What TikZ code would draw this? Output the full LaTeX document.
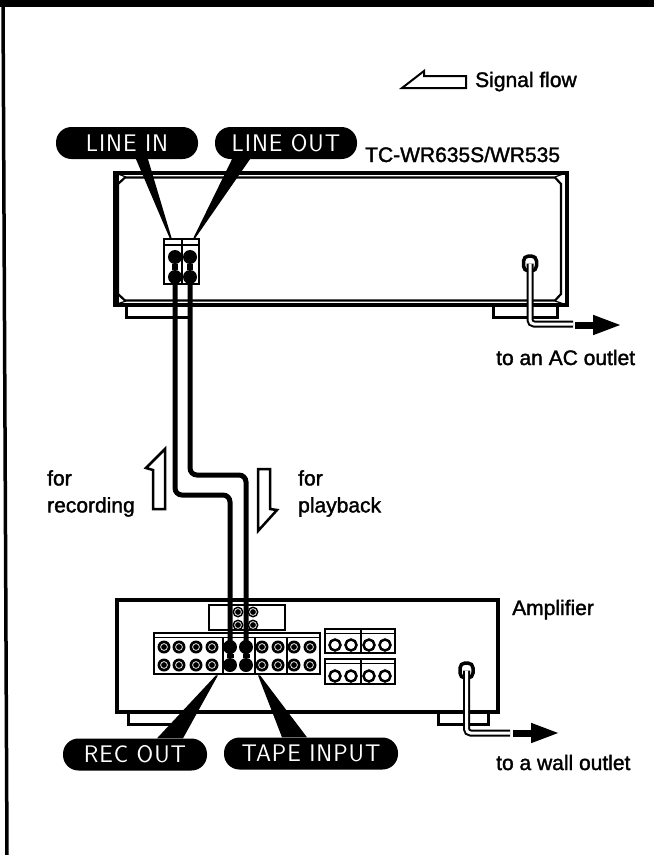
\documentclass[tikz,border=0pt]{standalone}
\usepackage{fontspec}
\setmainfont{Liberation Sans}
\setsansfont{Latin Modern Sans}[LetterSpace=4]
\newfontfamily\heavyfont{Liberation Sans}[FakeBold=1.6]
\usetikzlibrary{positioning, arrows.meta, calc}
\tikzset{
    labeltext/.style={font = \heavyfont\fontsize{21}{27}\selectfont, align = left, inner sep = 0},
    pill/.style={fill = black, text = white, rounded corners = 15.5, minimum height = 32, inner sep = 0, font = \sffamily\fontsize{24}{25}\selectfont},
    panel/.style={draw = black, line width = 2.5, minimum height = 20, inner sep = 0},
    plug/.style={draw = black, fill = white, line width = 3.5, rounded corners = 5, minimum width = 13, minimum height = 15, inner sep = 0},
    blackjack/.style={circle, fill = black, minimum size = 14, inner sep = 0},
    ringjack/.style={circle, fill = black, minimum size = 13, inner sep = 0, path picture = {\draw[white, line width = 0.7] (path picture bounding box.center) circle (3.4);}},
    openjack/.style={circle, draw = black, fill = white, line width = 2.5, minimum size = 11, inner sep = 0},
    cable/.style={line width = 5, rounded corners = 7},
    cord/.style={draw = black, line width = 2, double = white, double distance = 3, rounded corners = 4},
    flow/.style={draw = black, fill = white, line width = 2.5, line join = miter},
    powerflow/.style={line width = 7, -{Triangle[length = 29pt, width = 18pt]}}
}

\begin{document}
\begin{tikzpicture}[x=1pt, y=-1pt]
\useasboundingbox (0,0) rectangle (654,855);

% page rules
\fill[black] (0,0) rectangle (654,6.5);
\draw[line width = 3.5] (3,0) -- (7,855);

% signal flow key
\draw[flow, line width = 2] (402,88) -- (424,71) -- (424,76) -- (466,76) -- (466,88) -- cycle;
\node[labeltext, anchor = base west] (signal) at (475,87) {Signal flow};

% tape deck
\draw[line width = 3] (126,305) -- (126,317) -- (190,317);
\draw[line width = 3] (493,305) -- (493,317) -- (557,317) -- (557,305);
\node[draw = black, line width = 4, minimum width = 452, minimum height = 132, inner sep = 0] (deck) at (340.5,239) {};
\draw[line width = 2.2] (125,177.5) -- (555,177.5) -- (561,184) -- (561,294) -- (555,300.5) -- (125,300.5) -- (118,294) -- (118,184) -- cycle;
\draw[line width = 5] (116,175) -- (116,303);
\draw[line width = 1.2] (114,172.5) -- (126,177) (114,305) -- (126,301) (567,172.5) -- (555,177) (567,305) -- (555,301);
\node[labeltext, anchor = base west] (deckname) at (365,162) {TC-WR635S/WR535};

% deck jacks
\node[draw = black, fill = white, line width = 2.5, minimum width = 35, minimum height = 45, inner sep = 0] (jackbox) at (181.5,261.5) {};
\draw[line width = 1.5] (jackbox.north west |- 0,245) -- (jackbox.north east |- 0,245);
\draw[line width = 2] (jackbox.north) -- (jackbox.south);
\foreach \x/\name in {175/in, 190/out}
{
    \node[blackjack] (\name top) at (\x,257) {};
    \node[blackjack] (\name low) at (\x,277) {};
    \draw[line width = 6] (\name top) -- (\name low);
}

% amplifier
\draw[line width = 3] (128,712) -- (128,724) -- (175,724);
\draw[line width = 3] (438,712) -- (438,724) -- (488,724) -- (488,712);
\node[draw = black, line width = 4, minimum width = 381, minimum height = 112, inner sep = 0] (amp) at (307.5,656) {};
\node[panel, minimum width = 76, minimum height = 25] (centrepanel) at (247,617.5) {};
\node[panel, fill = white, minimum width = 166, minimum height = 41] (mainpanel) at (237,653.5) {};
\draw[line width = 1] (mainpanel.north west |- 0,637.5) -- (mainpanel.north east |- 0,637.5);
\foreach \x in {223, 255, 287}
    \draw[line width = 1.5] (\x,637.5) -- (\x,674);
\node[panel, minimum width = 70, minimum height = 24] (outa) at (360,641) {};
\node[panel, minimum width = 70, minimum height = 25] (outb) at (360,671.5) {};
\draw[line width = 1.5] (361,629) -- (361,653) (361,659) -- (361,684);
\draw[line width = 1] (325,633) -- (395,633) (325,663) -- (395,663);
\node[labeltext, anchor = base west] (ampname) at (512,615) {Amplifier};

% amplifier jacks
\foreach \x in {164, 179, 196, 212, 262, 278, 294, 310}
\foreach \y in {647, 665}
{
    \node[ringjack] at (\x,\y) {};
}
\foreach \x/\name in {230/rec, 246/tape}
{
    \node[blackjack] (\name top) at (\x,647) {};
    \node[blackjack] (\name low) at (\x,665) {};
    \draw[line width = 7] (\name top) -- (\name low);
}
\foreach \x in {238, 253}
\foreach \y in {612, 625}
{
    \node[ringjack, minimum size = 11] at (\x,\y) {};
}
\foreach \x in {335, 351, 369, 385}
\foreach \y in {645, 676}
{
    \node[openjack] at (\x,\y) {};
}

% cables between deck and amplifier
\draw[cable] (inlow) -- (175,495) -| (reclow);
\draw[cable] (outlow) -- (190,475) -| (tapelow);

% line labels
\node[pill, minimum width = 142] (linein) at (127,143) {LINE IN};
\node[pill, minimum width = 142] (lineout) at (286,143) {LINE OUT};
\node[pill, minimum width = 144] (recout) at (135,754.5) {REC OUT};
\node[pill, minimum width = 174] (tapeinput) at (311,753.5) {TAPE INPUT};
\fill ([xshift = 9]linein.south) -- ([xshift = 21]linein.south) -- ([xshift = -10]jackbox.north) -- ([xshift = -12]jackbox.north) -- cycle;
\fill ([xshift = -54]lineout.south) -- ([xshift = -36]lineout.south) -- ([xshift = 14]jackbox.north) -- ([xshift = 12]jackbox.north) -- cycle;
\fill ([xshift = 22]recout.north) -- ([xshift = 48]recout.north) -- ([xshift = -19]mainpanel.south) -- ([xshift = -21]mainpanel.south) -- cycle;
\fill ([xshift = -29]tapeinput.north) -- ([xshift = -4]tapeinput.north) -- ([xshift = 23]mainpanel.south) -- ([xshift = 21]mainpanel.south) -- cycle;

% signal arrows
\draw[flow] (165,449) -- (146,468) -- (153,470) -- (153,509) -- (165,509) -- cycle;
\draw[flow] (258,469) -- (270,469) -- (270,509) -- (277,510) -- (258,531) -- cycle;
\node[labeltext, anchor = north west] (recording) at (47,470) {for\\recording};
\node[labeltext, anchor = north west] (playback) at (298,470) {for\\playback};

% power cords
\node[plug] (deckplug) at (530,263.5) {};
\node[plug] (ampplug) at (466.5,670.5) {};
\coordinate (deckend) at (573,324);
\coordinate (ampend) at (510,733);
\coordinate (decktip) at (622,325);
\coordinate (amptip) at (560,733);
\draw[cord] (deckplug.center) |- (deckend);
\draw[cord] (ampplug.center) |- (ampend);
\draw[powerflow] (575,325) -- (decktip);
\draw[powerflow] (513,733) -- (amptip);
\node[labeltext, anchor = base west] (acoutlet) at (496,365) {to an AC outlet};
\node[labeltext, anchor = base west] (walloutlet) at (496,770) {to a wall outlet};

\end{tikzpicture}
\end{document}
